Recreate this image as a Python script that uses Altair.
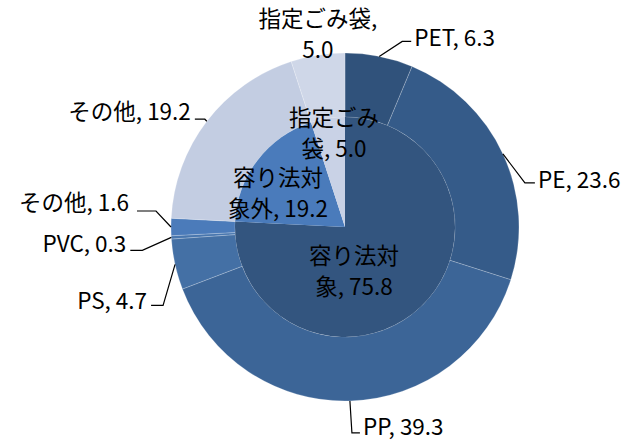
import altair as alt
import pandas as pd
import numpy as np

# ---- data ----
outer_names = ["PET", "PE", "PP", "PS", "PVC", "その他", "その他", "指定ごみ袋"]
outer_values = [6.3, 23.6, 39.3, 4.7, 0.3, 1.6, 19.2, 5.0]
inner_names = ["容り法対象", "容り法対象外", "指定ごみ袋"]
inner_values = [75.8, 19.2, 5.0]

# ---- styles / layout ----
outer_colors = ["#30527b", "#355b89", "#3c6597", "#4470a5", "#4876ae", "#4b7bba", "#c3cde2", "#cfd7e8"]
inner_colors = ["#33557f", "#4a7bbb", "#c9d2e6"]
W, H = 627, 441
cx, cy, R, r0 = 345, 227, 174, 110
FONT = "Noto Sans CJK JP"
FS = 22.5
# line breaks in labels (character index after which to break, None = no break)
outer_breaks = [None, None, None, None, None, None, None, 6]
inner_breaks = [4, 4, 4]
# leader layout: elbow offset from edge point, horizontal run, text offset from end, align
outer_layout = [
    ((23, -15), 9, (3, -2), "left"),
    ((22, 29), 10, (3, -2), "left"),
    ((2, 32), 8, (3, -5), "left"),
    ((-12, 41), -12, (-4, -3), "right"),
    ((-29, 13), -12, (-4, -5), "right"),
    ((-15, -16), -19, (-8, -7), "right"),
    ((-2, -2), -10, (-4, -6), "right"),
    (None, 0, (0, -35), "center"),
]
# first-line offsets from pie centre, same order as inner_names
inner_pos = [(9, 30), (-67, -48), (-11, -108)]


def make_label(name, v, br):
    s = f"{name}, {v:.1f}"
    if br is not None:
        s = s[:br] + "\n" + s[br:].lstrip()
    return s


outer = pd.DataFrame({
    "key": [f"o{i}" for i in range(len(outer_names))],
    "name": outer_names,
    "value": outer_values,
    "idx": range(len(outer_names)),
})
inner = pd.DataFrame({
    "key": [f"i{i}" for i in range(len(inner_names))],
    "name": inner_names,
    "value": inner_values,
    "idx": range(len(inner_names)),
})

tot_o = sum(outer_values)
cum = np.cumsum([0] + outer_values)
mid = (cum[:-1] + cum[1:]) / 2 / tot_o * 2 * np.pi

line_rows, text_rows = [], []
for i, (n, v) in enumerate(zip(outer_names, outer_values)):
    sx = cx + R * np.sin(mid[i])
    sy = cy - R * np.cos(mid[i])
    elb, run, toff, al = outer_layout[i]
    if elb is not None:
        ex, ey = sx + elb[0], sy + elb[1]
        fx, fy = ex + run, ey
        for k, (px, py) in enumerate([(sx, sy), (ex, ey), (fx, fy)]):
            line_rows.append({"lab": i, "k": k, "x": px, "y": py})
    else:
        fx, fy = sx, sy
    text_rows.append({"x": fx + toff[0], "y": fy + toff[1],
                      "text": make_label(n, v, outer_breaks[i]), "align": al})
for i, (n, v) in enumerate(zip(inner_names, inner_values)):
    text_rows.append({"x": cx + inner_pos[i][0], "y": cy + inner_pos[i][1],
                      "text": make_label(n, v, inner_breaks[i]), "align": "center"})

lines = pd.DataFrame(line_rows)
texts = pd.DataFrame(text_rows)

xs = alt.Scale(domain=[0, W], range=[0, W])
ys = alt.Scale(domain=[0, H], range=[0, H])

outer_arc = alt.Chart(outer).mark_arc(
    radius=R, radius2=r0, stroke="#ffffff", strokeWidth=0.6, strokeOpacity=0.35
).encode(
    theta=alt.Theta("value:Q", stack=True),
    order=alt.Order("idx:Q"),
    color=alt.Color("key:N", scale=alt.Scale(domain=list(outer["key"]), range=outer_colors), legend=None),
    x=alt.value(cx), y=alt.value(cy),
)
inner_arc = alt.Chart(inner).mark_arc(radius=r0, radius2=0).encode(
    theta=alt.Theta("value:Q", stack=True),
    order=alt.Order("idx:Q"),
    color=alt.Color("key:N", scale=alt.Scale(domain=list(inner["key"]), range=inner_colors), legend=None),
    x=alt.value(cx), y=alt.value(cy),
)

leaders = alt.Chart(lines).mark_line(color="#000000", strokeWidth=1.2).encode(
    x=alt.X("x:Q", scale=xs, axis=None),
    y=alt.Y("y:Q", scale=ys, axis=None),
    detail="lab:N",
    order="k:Q",
)

text_layers = []
for al in ["left", "right", "center"]:
    sub = texts[texts["align"] == al]
    text_layers.append(
        alt.Chart(sub).mark_text(
            align=al, baseline="middle", font=FONT, fontSize=FS,
            lineBreak="\n", lineHeight=31, color="#000000"
        ).encode(
            x=alt.X("x:Q", scale=xs, axis=None),
            y=alt.Y("y:Q", scale=ys, axis=None),
            text="text:N",
        )
    )

chart = alt.layer(outer_arc, inner_arc, leaders, *text_layers).resolve_scale(
    color="independent"
).properties(
    width=W, height=H, autosize=alt.AutoSizeParams(type="none"), padding=0
).configure_view(stroke=None)

chart.save("out.html", embed_options={"renderer": "svg", "actions": False})
